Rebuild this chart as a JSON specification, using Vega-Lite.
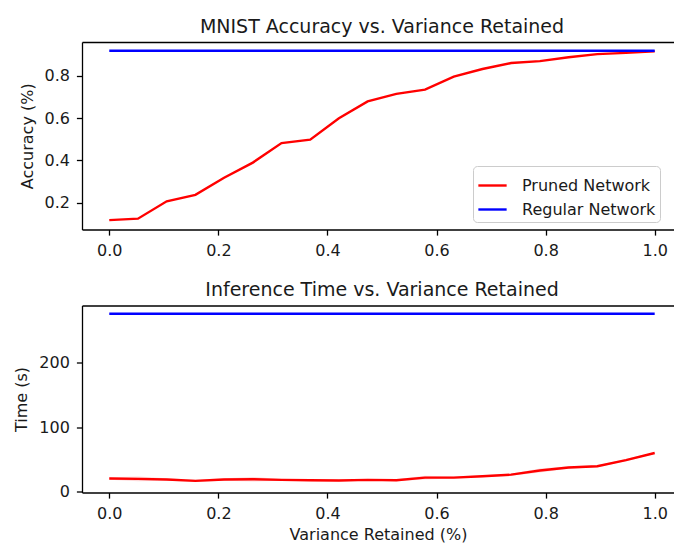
{
  "$schema": "https://vega.github.io/schema/vega-lite/v6.json",
  "background": "white",
  "padding": {"left": 13, "top": 17, "right": 0, "bottom": 0},
  "bounds": "flush",
  "spacing": 75.5,
  "config": {
    "font": "DejaVu Sans",
    "view": {"stroke": null},
    "axis": {
      "grid": false,
      "domainColor": "black",
      "domainWidth": 1.3,
      "tickColor": "black",
      "tickWidth": 1.3,
      "tickSize": 5.6,
      "labelPadding": 7,
      "labelFont": "DejaVu Sans",
      "labelFontSize": 16,
      "labelColor": "#1a1a1a",
      "titleFont": "DejaVu Sans",
      "titleFontSize": 16,
      "titleFontWeight": "normal",
      "titleColor": "#1a1a1a"
    },
    "title": {
      "font": "DejaVu Sans",
      "fontSize": 19,
      "fontWeight": "normal",
      "color": "#1a1a1a",
      "frame": "group",
      "anchor": "middle",
      "dx": 4,
      "offset": 5.5
    },
    "legend": {
      "labelFont": "DejaVu Sans",
      "labelFontSize": 16,
      "labelColor": "#1a1a1a"
    }
  },
  "datasets": {
    "acc": [
      {"x": 0.0, "network": "Pruned Network", "accuracy": 0.119},
      {"x": 0.0526, "network": "Pruned Network", "accuracy": 0.126},
      {"x": 0.1053, "network": "Pruned Network", "accuracy": 0.208},
      {"x": 0.1579, "network": "Pruned Network", "accuracy": 0.238},
      {"x": 0.2105, "network": "Pruned Network", "accuracy": 0.319},
      {"x": 0.2632, "network": "Pruned Network", "accuracy": 0.39},
      {"x": 0.3158, "network": "Pruned Network", "accuracy": 0.482},
      {"x": 0.3684, "network": "Pruned Network", "accuracy": 0.498},
      {"x": 0.4211, "network": "Pruned Network", "accuracy": 0.599},
      {"x": 0.4737, "network": "Pruned Network", "accuracy": 0.678},
      {"x": 0.5263, "network": "Pruned Network", "accuracy": 0.714},
      {"x": 0.5789, "network": "Pruned Network", "accuracy": 0.734},
      {"x": 0.6316, "network": "Pruned Network", "accuracy": 0.795},
      {"x": 0.6842, "network": "Pruned Network", "accuracy": 0.831},
      {"x": 0.7368, "network": "Pruned Network", "accuracy": 0.859},
      {"x": 0.7895, "network": "Pruned Network", "accuracy": 0.868},
      {"x": 0.8421, "network": "Pruned Network", "accuracy": 0.886},
      {"x": 0.8947, "network": "Pruned Network", "accuracy": 0.901},
      {"x": 0.9474, "network": "Pruned Network", "accuracy": 0.907},
      {"x": 1.0, "network": "Pruned Network", "accuracy": 0.914},
      {"x": 0.0, "network": "Regular Network", "accuracy": 0.917},
      {"x": 1.0, "network": "Regular Network", "accuracy": 0.917}
    ],
    "time": [
      {"x": 0.0, "network": "Pruned Network", "time": 20.5, "lo": 18.5, "hi": 22.5},
      {"x": 0.0526, "network": "Pruned Network", "time": 20, "lo": 16.5, "hi": 23.5},
      {"x": 0.1053, "network": "Pruned Network", "time": 19, "lo": 17, "hi": 21},
      {"x": 0.1579, "network": "Pruned Network", "time": 17, "lo": 15.5, "hi": 18.5},
      {"x": 0.2105, "network": "Pruned Network", "time": 19, "lo": 17, "hi": 21},
      {"x": 0.2632, "network": "Pruned Network", "time": 19.5, "lo": 16, "hi": 23},
      {"x": 0.3158, "network": "Pruned Network", "time": 18.5, "lo": 17, "hi": 20},
      {"x": 0.3684, "network": "Pruned Network", "time": 18, "lo": 16.5, "hi": 19.5},
      {"x": 0.4211, "network": "Pruned Network", "time": 17.5, "lo": 16, "hi": 19},
      {"x": 0.4737, "network": "Pruned Network", "time": 18.5, "lo": 17, "hi": 20},
      {"x": 0.5263, "network": "Pruned Network", "time": 18, "lo": 16.5, "hi": 19.5},
      {"x": 0.5789, "network": "Pruned Network", "time": 22, "lo": 19, "hi": 25},
      {"x": 0.6316, "network": "Pruned Network", "time": 22, "lo": 20.5, "hi": 23.5},
      {"x": 0.6842, "network": "Pruned Network", "time": 24, "lo": 22.5, "hi": 25.5},
      {"x": 0.7368, "network": "Pruned Network", "time": 26.5, "lo": 25, "hi": 28},
      {"x": 0.7895, "network": "Pruned Network", "time": 33, "lo": 30, "hi": 36},
      {"x": 0.8421, "network": "Pruned Network", "time": 37.5, "lo": 35.5, "hi": 39.5},
      {"x": 0.8947, "network": "Pruned Network", "time": 39.5, "lo": 38, "hi": 41},
      {"x": 0.9474, "network": "Pruned Network", "time": 49, "lo": 47.5, "hi": 50.5},
      {"x": 1.0, "network": "Pruned Network", "time": 60, "lo": 58.5, "hi": 61.5},
      {"x": 0.0, "network": "Regular Network", "time": 274.7, "lo": 274.7, "hi": 274.7},
      {"x": 1.0, "network": "Regular Network", "time": 274.7, "lo": 274.7, "hi": 274.7}
    ]
  },
  "vconcat": [
    {
      "title": {"text": "MNIST Accuracy vs. Variance Retained"},
      "width": 592,
      "height": 187.5,
      "data": {"name": "acc"},
      "resolve": {"axis": {"x": "independent"}},
      "layer": [
        {
          "mark": {"type": "line", "strokeWidth": 2.4, "clip": true},
          "encoding": {
            "x": {
              "field": "x", "type": "quantitative",
              "scale": {"domain": [-0.05, 1.0354], "nice": false, "zero": false},
              "axis": {"values": [0, 0.2, 0.4, 0.6, 0.8, 1.0], "format": ".1f", "title": null}
            },
            "y": {
              "field": "accuracy", "type": "quantitative",
              "scale": {"domain": [0.075, 0.958], "nice": false, "zero": false},
              "axis": {"values": [0.2, 0.4, 0.6, 0.8], "format": ".1f", "title": "Accuracy (%)", "titlePadding": 8}
            },
            "color": {
              "field": "network", "type": "nominal",
              "scale": {"domain": ["Pruned Network", "Regular Network"], "range": ["#ff0000", "#0000ff"]},
              "legend": {
                "title": null,
                "orient": "none",
                "legendX": 391,
                "legendY": 124,
                "symbolType": "stroke",
                "symbolSize": 800,
                "symbolStrokeWidth": 2.4,
                "labelOffset": 14,
                "padding": 4,
                "rowPadding": -3,
                "strokeColor": "#cccccc",
                "fillColor": "rgba(255,255,255,0.8)",
                "cornerRadius": 4
              }
            }
          }
        },
        {
          "transform": [{"filter": "datum.network == 'Regular Network'"}],
          "mark": {"type": "line", "opacity": 0},
          "encoding": {
            "x": {
              "field": "x", "type": "quantitative",
              "axis": {"orient": "top", "labels": false, "ticks": false, "title": null, "domain": true}
            },
            "y": {"field": "accuracy", "type": "quantitative"}
          }
        }
      ]
    },
    {
      "title": {"text": "Inference Time vs. Variance Retained"},
      "width": 592,
      "height": 187,
      "data": {"name": "time"},
      "resolve": {"axis": {"x": "independent"}},
      "layer": [
        {
          "transform": [{"filter": "datum.network == 'Pruned Network'"}],
          "mark": {"type": "area", "color": "#ff0000", "opacity": 0.15},
          "encoding": {
            "x": {
              "field": "x", "type": "quantitative",
              "axis": {"orient": "top", "labels": false, "ticks": false, "title": null, "domain": true}
            },
            "y": {"field": "lo", "type": "quantitative"},
            "y2": {"field": "hi"}
          }
        },
        {
          "mark": {"type": "line", "strokeWidth": 2.4, "clip": true},
          "encoding": {
            "x": {
              "field": "x", "type": "quantitative",
              "scale": {"domain": [-0.05, 1.0354], "nice": false, "zero": false},
              "axis": {"values": [0, 0.2, 0.4, 0.6, 0.8, 1.0], "format": ".1f", "title": "Variance Retained (%)", "titlePadding": 5}
            },
            "y": {
              "field": "time", "type": "quantitative",
              "scale": {"domain": [-1, 287.5], "nice": false, "zero": false},
              "axis": {"values": [0, 100, 200], "title": "Time (s)", "titlePadding": 9}
            },
            "color": {
              "field": "network", "type": "nominal",
              "scale": {"domain": ["Pruned Network", "Regular Network"], "range": ["#ff0000", "#0000ff"]},
              "legend": null
            }
          }
        }
      ]
    }
  ]
}
